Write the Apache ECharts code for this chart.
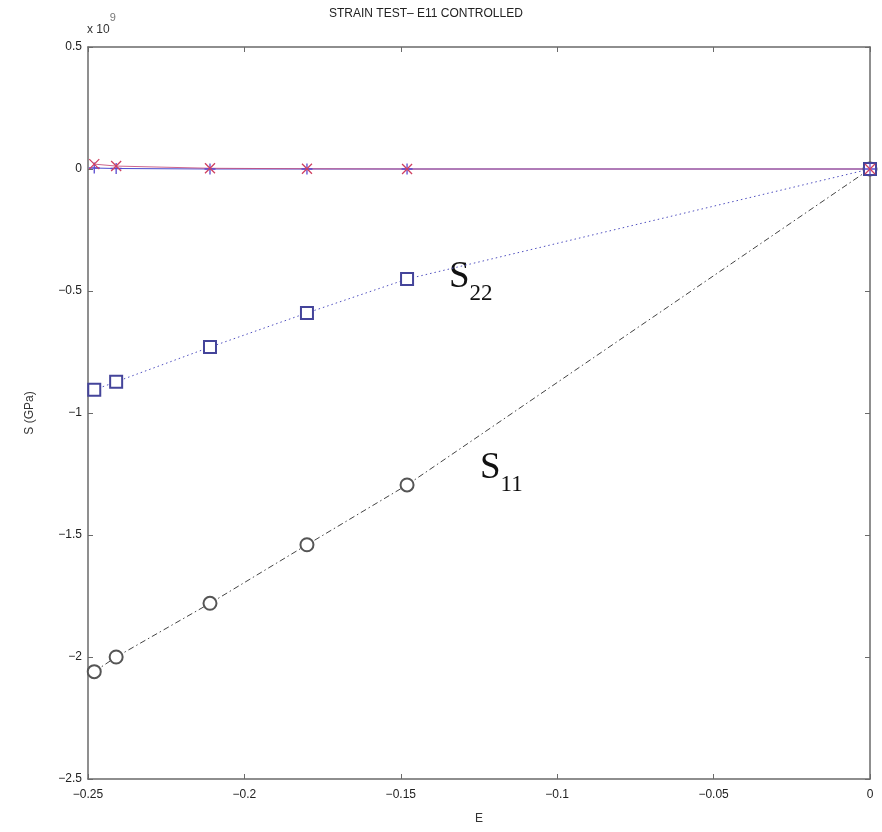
<!DOCTYPE html>
<html>
<head>
<meta charset="utf-8">
<script src="https://cdn.jsdelivr.net/npm/echarts@6/dist/echarts.min.js"></script>
<style>
html,body{margin:0;padding:0;background:#fff;}
#chart{width:882px;height:832px;}
</style>
</head>
<body>
<div id="chart"></div>
<script>
// Data (stress in units of 1e9, i.e. GPa-scaled axis "x 10^9")
const strainE = [-0.248, -0.241, -0.211, -0.180, -0.148, 0];
const stressS11 = [-2.06, -2.00, -1.78, -1.54, -1.295, 0];
const stressS22 = [-0.905, -0.872, -0.730, -0.590, -0.451, 0];
const stressS33 = [0.020, 0.012, 0.003, 0.001, 0.000, 0];
const stressS12 = [0.004, 0.002, 0.000, 0.000, 0.000, 0];
const xTicks = [-0.25, -0.2, -0.15, -0.1, -0.05, 0];
const yTicks = [0.5, 0, -0.5, -1, -1.5, -2, -2.5];

const pair = (ys) => strainE.map((x, i) => [x, ys[i]]);
const fmt = (v) => {
  const r = Math.round(v * 1000) / 1000;
  return (r < 0 ? '\u2212' : '') + String(Math.abs(r));
};
const FONT = 'Liberation Sans';
const axisCol = '#6a6a6a';

const chart = echarts.init(document.getElementById('chart'), null, {renderer: 'canvas'});
const commonAxis = {
  axisLine: {show: true, onZero: false, lineStyle: {color: axisCol, width: 1.5}},
  axisTick: {show: true, inside: true, length: 5, lineStyle: {color: axisCol, width: 1}},
  splitLine: {show: false}
};
chart.setOption({
  animation: false,
  backgroundColor: '#ffffff',
  grid: {left: 88, right: 12, top: 47, bottom: 53, containLabel: false},
  xAxis: [
    Object.assign({}, commonAxis, {
      type: 'value', min: -0.25, max: 0, interval: 0.05, position: 'bottom',
      name: 'E', nameLocation: 'middle', nameGap: 34,
      nameTextStyle: {fontFamily: FONT, fontSize: 12, color: '#333'},
      axisLabel: {fontFamily: FONT, fontSize: 12, color: '#222', margin: 10, formatter: fmt}
    }),
    Object.assign({}, commonAxis, {
      type: 'value', min: -0.25, max: 0, interval: 0.05, position: 'top',
      axisLabel: {show: false}
    })
  ],
  yAxis: [
    Object.assign({}, commonAxis, {
      type: 'value', min: -2.5, max: 0.5, interval: 0.5, position: 'left',
      name: 'S (GPa)', nameLocation: 'middle', nameGap: 52, nameRotate: 90,
      nameTextStyle: {fontFamily: FONT, fontSize: 12, color: '#333'},
      axisLabel: {fontFamily: FONT, fontSize: 12, color: '#222', margin: 6, formatter: fmt}
    }),
    Object.assign({}, commonAxis, {
      type: 'value', min: -2.5, max: 0.5, interval: 0.5, position: 'right',
      axisLabel: {show: false}
    })
  ],
  series: [
    {
      type: 'line', name: 'S11', data: pair(stressS11),
      symbol: 'emptyCircle', symbolSize: 13,
      lineStyle: {color: '#444', width: 1, type: [6, 3, 1.5, 3]},
      itemStyle: {color: '#555', borderColor: '#555', borderWidth: 1}
    },
    {
      type: 'line', name: 'S22', data: pair(stressS22),
      symbol: 'emptyRect', symbolSize: 12,
      lineStyle: {color: '#5050c0', width: 1, type: [1.5, 3]},
      itemStyle: {color: '#44449a', borderColor: '#44449a', borderWidth: 1.2}
    },
    {
      type: 'line', name: 'S12', data: pair(stressS12),
      symbol: 'path://M5,0L5,10M0,5L10,5', symbolSize: 11,
      lineStyle: {color: '#4a4ad0', width: 1},
      itemStyle: {color: 'rgba(0,0,0,0)', borderColor: '#5a4ad0', borderWidth: 1.3}
    },
    {
      type: 'line', name: 'S33', data: pair(stressS33),
      symbol: 'path://M0,0L10,10M10,0L0,10', symbolSize: 10,
      lineStyle: {color: '#c04070', width: 1, opacity: 0.8},
      itemStyle: {color: 'rgba(0,0,0,0)', borderColor: '#d04060', borderWidth: 1.3}
    }
  ],
  graphic: [
    {
      type: 'text', left: 479 - 150, top: 8,
      style: {text: 'STRAIN TEST\u2013 E11 CONTROLLED', width: 300, align: 'center',
        fontFamily: FONT, fontSize: 12, fill: '#222'}
    },
    {
      type: 'text', left: 87, top: 12,
      style: {
        text: '{a|x 10}{b|9}',
        rich: {
          a: {fontFamily: FONT, fontSize: 12, fill: '#333', lineHeight: 24, verticalAlign: 'bottom'},
          b: {fontFamily: FONT, fontSize: 11, fill: '#777', lineHeight: 12, verticalAlign: 'top'}
        }
      }
    },
    {
      type: 'text', left: 449, top: 259,
      style: {
        text: '{s|S}{n|22}',
        rich: {
          s: {fontFamily: 'Liberation Serif', fontSize: 37, fill: '#111', lineHeight: 38, verticalAlign: 'top'},
          n: {fontFamily: 'Liberation Serif', fontSize: 23, fill: '#111', lineHeight: 46, verticalAlign: 'bottom'}
        }
      }
    },
    {
      type: 'text', left: 480, top: 450,
      style: {
        text: '{s|S}{n|11}',
        rich: {
          s: {fontFamily: 'Liberation Serif', fontSize: 37, fill: '#111', lineHeight: 38, verticalAlign: 'top'},
          n: {fontFamily: 'Liberation Serif', fontSize: 23, fill: '#111', lineHeight: 46, verticalAlign: 'bottom'}
        }
      }
    }
  ]
});
</script>
</body>
</html>
